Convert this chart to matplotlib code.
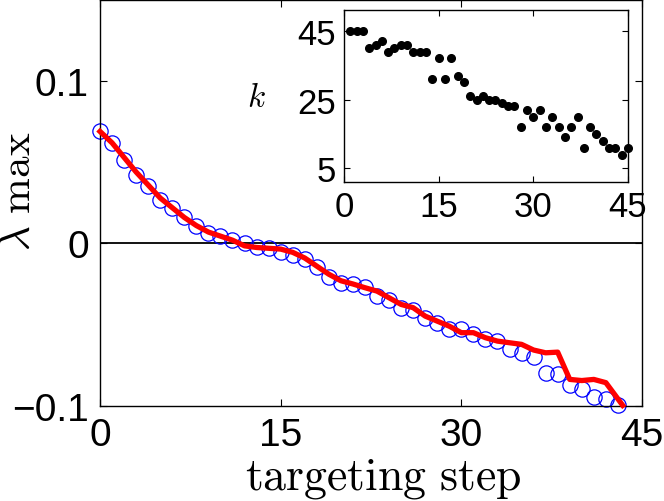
import numpy as np
import matplotlib
matplotlib.use('Agg')
import matplotlib.pyplot as plt

plt.rcParams['font.family'] = ['Liberation Sans', 'DejaVu Sans']
plt.rcParams['mathtext.fontset'] = 'cm'
plt.rcParams['axes.unicode_minus'] = True

# krok celowania (okręgi) i lambda max
kroki = np.arange(0, 44)
lam_kolka = [0.0692, 0.0616, 0.0513, 0.0419, 0.0353, 0.0265, 0.0220, 0.0160, 0.0107, 0.0066,
             0.0045, 0.0020, 0.0000, -0.0023, -0.0031, -0.0051, -0.0074, -0.0099, -0.0146, -0.0207,
             -0.0242, -0.0253, -0.0268, -0.0325, -0.0351, -0.0396, -0.0413, -0.0462, -0.0489, -0.0530,
             -0.0530, -0.0561, -0.0592, -0.0604, -0.0652, -0.0674, -0.0698, -0.0801, -0.0807, -0.0875,
             -0.0900, -0.0945, -0.0961, -0.0998]

# czerwona linia
kroki_linia = list(range(0, 43)) + [43.4]
lam_linia = [0.069, 0.062, 0.053, 0.044, 0.036, 0.028, 0.022, 0.016, 0.011, 0.007,
             0.0045, 0.002, -0.0015, -0.0025, -0.003, -0.0035, -0.0055, -0.009, -0.014, -0.019,
             -0.023, -0.025, -0.0273, -0.0294, -0.0335, -0.0376, -0.0396, -0.0448, -0.0479, -0.051,
             -0.055, -0.055, -0.0581, -0.0602, -0.0612, -0.0622, -0.0657, -0.0674, -0.067, -0.0838,
             -0.0845, -0.0838, -0.0858, -0.0998]

# wstawka: k w kolejnych krokach
kroki_k = np.arange(1, 46)
k_wart = [45, 45, 45, 40, 41, 42, 39, 40, 41, 41,
          39, 39, 39, 31, 37, 31, 37, 32, 30, 26,
          25, 26, 25, 25, 24, 23, 23, 17, 22, 20,
          22, 17, 20, 17, 14, 17, 20, 11, 17, 15,
          13, 11, 11, 9, 11]

fig = plt.figure(figsize=(6.64, 5.02), dpi=100)
ax = fig.add_axes([100 / 664, 1 - 406.7 / 502, 542 / 664, 405.7 / 502])
ax.axhline(0, color='k', lw=1.3, zorder=1)
ax.plot(kroki, lam_kolka, 'o', mfc='none', mec='blue', ms=11, mew=0.9, zorder=2, clip_on=False)
ax.plot(kroki_linia, lam_linia, '-', color='red', lw=3.8, zorder=3, clip_on=False)
ax.set_xlim(0, 45)
ax.set_ylim(-0.1, 0.15)
ax.set_xticks([0, 15, 30, 45])
ax.set_yticks([-0.1, 0, 0.1])
ax.set_yticklabels(['\u22120.1', '0', '0.1'])
ax.tick_params(direction='in', top=True, right=True, labelsize=28, length=5, width=0.8, pad=8)
for s in ax.spines.values():
    s.set_linewidth(1.0)
ax.set_xlabel(r'$\mathrm{targeting\ step}$', fontsize=33)
ax.xaxis.set_label_coords(0.522, -0.125)
ax.set_ylabel(r'$\lambda\ \mathrm{max}$', fontsize=31)
ax.yaxis.set_label_coords(-0.112, 0.53)

ins = fig.add_axes([344 / 664, 1 - 183 / 502, 284 / 664, 171.7 / 502])
ins.plot(kroki_k, k_wart, 'o', color='black', ms=5.5, clip_on=False)
ins.set_xlim(0, 45)
ins.set_ylim(1, 51)
ins.set_xticks([0, 15, 30, 45])
ins.set_yticks([5, 25, 45])
ins.tick_params(direction='in', top=True, right=True, labelsize=25, length=4, width=0.8, pad=6)
for s in ins.spines.values():
    s.set_linewidth(1.0)
ins.set_ylabel(r'$k$', fontsize=24, rotation=0)
ins.yaxis.set_label_coords(-0.31, 0.40)

fig.savefig('out.png', dpi=100)
